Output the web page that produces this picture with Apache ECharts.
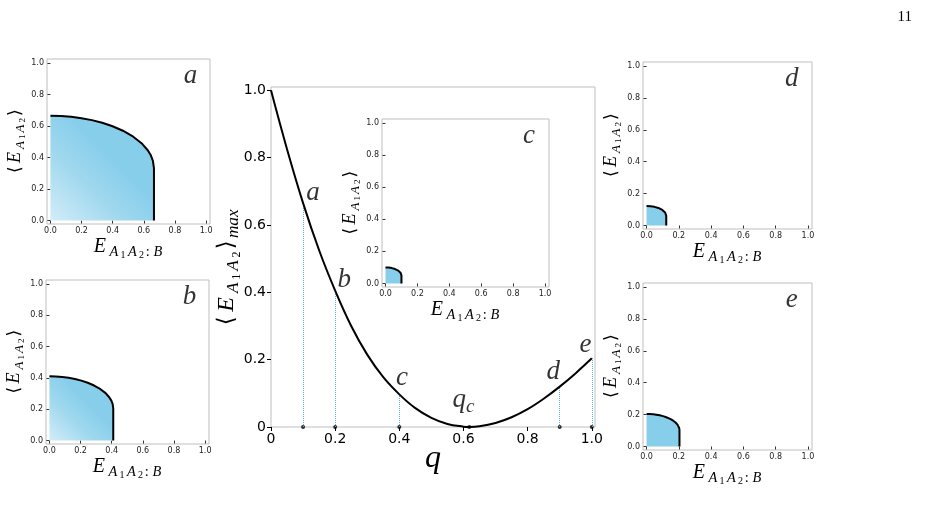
<!DOCTYPE html>
<html>
<head>
<meta charset="utf-8">
<script src="https://cdn.jsdelivr.net/npm/echarts@6/dist/echarts.min.js"></script>
<style>
  html, body { margin: 0; background: #fff; }
  #chart { width: 929px; height: 517px; }
</style>
</head>
<body>
<div id="chart"></div>
<script>
// main curve <E_A1A2>_max against q
const qValues = [0, 0.05, 0.1, 0.15, 0.2, 0.25, 0.3, 0.35, 0.4, 0.45, 0.5, 0.55, 0.6, 0.618, 0.65, 0.7, 0.75, 0.8, 0.85, 0.9, 0.95, 1.0];
const maxValues = [1.0, 0.825, 0.665, 0.525, 0.405, 0.300, 0.215, 0.148, 0.097, 0.056, 0.027, 0.009, 0.001, 0, 0.002, 0.012, 0.029, 0.053, 0.084, 0.12, 0.16, 0.204];

// marked q values (dotted drops) and the points on the axis
const markQ = [0.1, 0.2, 0.4, 0.9, 1.0];
const markValues = [0.665, 0.405, 0.097, 0.12, 0.204];
const dotQ = [0.1, 0.2, 0.4, 0.618, 0.9, 1.0];

// curve labels
const labelNames = ['a', 'b', 'c', 'qc', 'd', 'e'];
const labelX = [0.131, 0.228, 0.408, 0.60, 0.88, 0.98];
const labelY = [0.694, 0.436, 0.145, 0.08, 0.163, 0.243];

const mainTicks = [0, 0.2, 0.4, 0.6, 0.8, 1.0];
const panelTicks = [0, 0.2, 0.4, 0.6, 0.8, 1.0];

// small panels: boundary of the cloud, as fraction of the panel maximum
const panelNames = ['a', 'b', 'c', 'd', 'e'];
const panelMax = [0.665, 0.41, 0.10, 0.122, 0.204];
const edgeU = [0, 0.1, 0.2, 0.3, 0.4, 0.5, 0.6, 0.7, 0.8, 0.88, 0.94, 0.97, 0.99, 1, 1];
const edgeV = [1, 0.997, 0.99, 0.977, 0.958, 0.933, 0.9, 0.857, 0.8, 0.738, 0.671, 0.622, 0.57, 0.5, 0];

const serif = 'Liberation Serif';

// math-like rich text; every token gets a fixed width so the spacing looks like TeX
function mathRich(base) {
  const tok = (size, w, extra) => Object.assign({
    fontFamily: serif, fontStyle: 'italic', fontSize: size, color: '#000', width: base * w
  }, extra);
  const sub = { lineHeight: base * 0.72, padding: [base * 0.55, 0, 0, 0] };
  const sub2 = { lineHeight: base * 0.5, padding: [base * 0.85, 0, 0, 0], fontStyle: 'normal' };
  return {
    lb: tok(base * 0.95, 0.55, { fontFamily: 'DejaVu Sans', fontStyle: 'normal', lineHeight: base * 1.2 }),
    rb: tok(base * 0.95, 0.5, { fontFamily: 'DejaVu Sans', fontStyle: 'normal', lineHeight: base * 1.2 }),
    E: tok(base, 0.8, { lineHeight: base * 1.2 }),
    A: tok(base * 0.72, 0.6, sub),
    n: tok(base * 0.5, 0.32, sub2),
    co: tok(base * 0.72, 0.3, Object.assign({ fontStyle: 'normal' }, sub)),
    B: tok(base * 0.72, 0.72, sub),
    mx: tok(base * 0.72, 1.25, sub)
  };
}

const yPanelName = '{lb|⟨}{E|E}{A|A}{n|1}{A|A}{n|2}{rb|⟩}';
const xPanelName = '{E|E}{A|A}{n|1}{A|A}{n|2}{co|:}{B|B}';
const mainYName = '{lb|⟨}{E|E}{A|A}{n|1}{A|A}{n|2}{rb|⟩}{mx|max}';

// layout: main plot first, then panels a..e
const boxes = [
  { left: 271, top: 87, width: 324, height: 340 },
  { left: 47, top: 59, width: 163, height: 165 },
  { left: 46, top: 280, width: 163, height: 164 },
  { left: 382, top: 119, width: 167, height: 168 },
  { left: 643, top: 62, width: 169, height: 167 },
  { left: 643, top: 283, width: 169, height: 167 }
];

const grid = boxes.map(b => Object.assign({
  show: true, borderColor: '#bfbfbf', borderWidth: 1, backgroundColor: '#fff',
  outerBoundsMode: 'none', containLabel: false
}, b));

const xAxis = [], yAxis = [];
xAxis.push({
  type: 'value', gridIndex: 0, min: 0, max: 1.01,
  axisLine: { show: false }, splitLine: { show: false },
  axisTick: { show: true, length: 4, customValues: mainTicks, lineStyle: { color: '#000' } },
  axisLabel: { customValues: mainTicks, fontFamily: 'DejaVu Sans', fontSize: 14, color: '#000', margin: 5,
    formatter: v => v === 0 ? '0' : v.toFixed(1) },
  name: '{q|q}', nameLocation: 'middle', nameGap: 16, nameMoveOverlap: false,
  nameTextStyle: { rich: { q: { fontFamily: serif, fontStyle: 'italic', fontSize: 32, color: '#000' } } }
});
yAxis.push({
  type: 'value', gridIndex: 0, min: 0, max: 1.01,
  axisLine: { show: false }, splitLine: { show: false },
  axisTick: { show: true, length: 4, customValues: mainTicks, lineStyle: { color: '#000' } },
  axisLabel: { customValues: mainTicks, fontFamily: 'DejaVu Sans', fontSize: 14, color: '#000', margin: 5,
    formatter: v => v === 0 ? '0' : v.toFixed(1) },
  name: mainYName, nameLocation: 'middle', nameGap: 30, nameRotate: 90, nameMoveOverlap: false,
  nameTextStyle: { padding: [0, 22, 0, 0], rich: mathRich(24) }
});
for (let i = 1; i <= 5; i++) {
  const common = {
    type: 'value', gridIndex: i, min: -0.022, max: 1.025,
    axisLine: { show: false }, splitLine: { show: false },
    axisTick: { show: true, length: 3, customValues: panelTicks, lineStyle: { color: '#333' } },
    axisLabel: { customValues: panelTicks, fontFamily: 'DejaVu Sans', fontSize: 8, color: '#222', margin: 3,
      formatter: v => v.toFixed(1) },
    nameLocation: 'middle', nameMoveOverlap: false
  };
  xAxis.push(Object.assign({}, common, { name: xPanelName, nameGap: 11,
    nameTextStyle: { rich: mathRich(20) } }));
  yAxis.push(Object.assign({}, common, { name: yPanelName, nameGap: 21, nameRotate: 90,
    nameTextStyle: { rich: mathRich(18) } }));
}

const series = [];
series.push({
  type: 'line', xAxisIndex: 0, yAxisIndex: 0, smooth: 0.4, symbol: 'none',
  data: qValues.map((q, i) => [q, maxValues[i]]),
  lineStyle: { color: '#000', width: 2 }, z: 5
});
series.push({
  type: 'scatter', xAxisIndex: 0, yAxisIndex: 0, symbolSize: 4,
  itemStyle: { color: '#000' },
  data: dotQ.map(q => [q, 0]),
  markLine: {
    silent: true, symbol: 'none', label: { show: false },
    lineStyle: { color: '#5aa9e6', type: 'dotted', width: 1 },
    data: markQ.map((q, i) => [{ coord: [q, 0] }, { coord: [q, markValues[i]] }])
  }, z: 4
});
series.push({
  type: 'scatter', xAxisIndex: 0, yAxisIndex: 0, symbolSize: 1,
  itemStyle: { color: 'transparent' },
  data: labelNames.map((n, i) => ({ value: [labelX[i], labelY[i]], name: n })),
  label: {
    show: true, position: 'inside',
    formatter: p => p.name === 'qc' ? '{l|q}{c|c}' : '{l|' + p.name + '}',
    rich: {
      l: { fontFamily: serif, fontStyle: 'italic', fontSize: 27, color: '#000', lineHeight: 30 },
      c: { fontFamily: serif, fontStyle: 'italic', fontSize: 19, color: '#000', lineHeight: 19, padding: [14, 0, 0, 0] }
    }
  }, z: 6
});

panelNames.forEach((name, k) => {
  const m = panelMax[k];
  const fill = k < 2
    ? new echarts.graphic.LinearGradient(0, 1, 1, 0, [
        { offset: 0, color: '#d3ecf8' },
        { offset: 0.35, color: '#9fd8ee' },
        { offset: 0.6, color: '#87ceeb' }
      ])
    : '#87ceeb';
  series.push({
    type: 'line', xAxisIndex: k + 1, yAxisIndex: k + 1, symbol: 'none',
    data: edgeU.map((u, i) => [u * m, edgeV[i] * m]),
    lineStyle: { color: '#000', width: 2 },
    areaStyle: { color: fill, opacity: 1 }
  });
  series.push({
    type: 'scatter', xAxisIndex: k + 1, yAxisIndex: k + 1, symbolSize: 1,
    itemStyle: { color: 'transparent' },
    data: [{ value: [0.9, 0.92], name: name }],
    label: { show: true, position: 'inside', formatter: '{b}',
      fontFamily: serif, fontStyle: 'italic', fontSize: 27, color: '#000' }
  });
});

const chart = echarts.init(document.getElementById('chart'));
chart.setOption({
  animation: false,
  backgroundColor: '#fff',
  title: { text: '11', right: 12, top: 5,
    textStyle: { fontFamily: serif, fontWeight: 'normal', fontSize: 15, color: '#000' } },
  grid: grid,
  xAxis: xAxis,
  yAxis: yAxis,
  series: series
});
</script>
</body>
</html>
